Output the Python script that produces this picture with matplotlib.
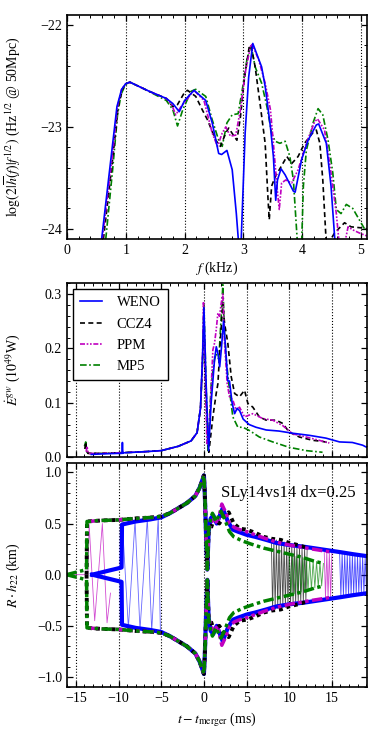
import numpy as np
import matplotlib
matplotlib.use('Agg')
import matplotlib.pyplot as plt
from matplotlib.ticker import MultipleLocator

# ---- top panel: spectrum, f in kHz vs log amplitude ----
weno_f = [0.59, 0.75, 0.85, 0.93, 1.0, 1.07, 1.40, 1.69, 1.80, 1.91, 2.0, 2.16, 2.36, 2.47, 2.58, 2.63, 2.72,
          2.81, 2.88, 2.92, 2.96, 3.03, 3.09, 3.16, 3.31, 3.37, 3.46, 3.51, 3.55, 3.58, 3.64, 3.71, 3.85, 3.88,
          3.99, 4.10, 4.24, 4.28, 4.41, 4.49, 4.56]
weno_s = [-24.1, -23.3, -22.8, -22.63, -22.575, -22.56, -22.65, -22.72, -22.77, -22.85, -22.74, -22.64, -22.74,
          -22.96, -23.26, -23.27, -23.23, -23.42, -23.85, -24.15, -24.15, -23.06, -22.51, -22.18, -22.41, -22.6,
          -23.0, -23.29, -23.72, -23.52, -23.41, -23.47, -23.63, -23.64, -23.32, -23.13, -22.98, -22.97, -23.16,
          -23.58, -24.15]

ccz4_f = [0.62, 0.78, 0.87, 0.95, 1.01, 1.07, 1.40, 1.69, 1.80, 1.88, 1.99, 2.05, 2.19, 2.30, 2.39, 2.53, 2.61,
          2.70, 2.75, 2.84, 2.89, 2.95, 3.02, 3.10, 3.13, 3.20, 3.29, 3.37, 3.42, 3.44, 3.48, 3.54, 3.62, 3.74,
          3.82, 3.93, 4.04, 4.19, 4.24, 4.30, 4.35, 4.41, 4.44, 4.55, 4.72, 4.83, 5.0, 5.1]
ccz4_s = [-24.1, -23.3, -22.8, -22.62, -22.575, -22.56, -22.65, -22.72, -22.8, -22.78, -22.67, -22.64, -22.70,
          -22.83, -22.93, -23.13, -23.19, -23.06, -23.01, -23.09, -23.13, -22.90, -22.51, -22.21, -22.20, -22.41,
          -22.80, -23.16, -23.72, -23.91, -23.58, -23.49, -23.41, -23.29, -23.36, -23.29, -23.16, -23.05, -23.03,
          -23.16, -23.52, -24.15, -24.15, -24.04, -23.94, -23.98, -23.99, -24.0]

ppm_f = [0.6, 0.77, 0.86, 0.93, 1.0, 1.07, 1.40, 1.69, 1.78, 1.85, 1.94, 2.16, 2.33, 2.47, 2.56, 2.64, 2.70,
         2.78, 2.87, 2.95, 3.03, 3.12, 3.15, 3.26, 3.37, 3.46, 3.51, 3.57, 3.61, 3.65, 3.72, 3.82, 3.93, 4.07,
         4.21, 4.26, 4.38, 4.49, 4.58, 4.63, 4.72, 4.78, 4.86, 4.97, 5.1]
ppm_s = [-24.1, -23.3, -22.8, -22.63, -22.575, -22.56, -22.65, -22.72, -22.78, -22.88, -22.80, -22.64, -22.74,
         -23.06, -23.19, -23.06, -23.0, -23.09, -23.08, -22.83, -22.47, -22.21, -22.19, -22.34, -22.57, -22.83,
         -23.16, -23.58, -23.81, -23.55, -23.52, -23.55, -23.42, -23.16, -22.95, -22.92, -23.03, -23.45, -23.85,
         -24.15, -24.15, -23.98, -24.01, -24.04, -24.07]

mp5_f = [0.66, 0.78, 0.86, 0.92, 0.99, 1.07, 1.29, 1.69, 1.80, 1.88, 1.97, 2.11, 2.19, 2.36, 2.47, 2.58, 2.64,
         2.72, 2.81, 2.91, 2.98, 3.06, 3.13, 3.20, 3.31, 3.40, 3.48, 3.54, 3.62, 3.71, 3.79, 3.85, 3.89, 3.92,
         3.99, 4.02, 4.07, 4.19, 4.27, 4.35, 4.44, 4.52, 4.58, 4.66, 4.75, 4.86, 4.97, 5.06, 5.1]
mp5_s = [-24.1, -23.4, -22.88, -22.68, -22.59, -22.56, -22.62, -22.74, -22.83, -22.99, -22.83, -22.65, -22.63,
         -22.70, -22.93, -23.13, -23.19, -22.96, -22.88, -22.87, -22.64, -22.34, -22.20, -22.41, -22.57, -22.80,
         -23.06, -23.14, -23.16, -23.14, -23.29, -23.52, -23.88, -24.15, -24.15, -23.58, -23.23, -22.95, -22.82,
         -22.88, -23.13, -23.45, -23.81, -23.85, -23.76, -23.80, -23.91, -24.0, -24.02]

# ---- middle panel: GW luminosity (1e49 W) vs t - t_merger (ms) ----
weno_t2 = [-13.2, -12.0, -10.0, -9.6, -9.55, -9.5, -9.4, -7.0, -5.0, -3.0, -1.5, -0.8, -0.4, -0.15, 0.0, 0.25,
           0.55, 0.85, 1.25, 1.45, 1.65, 1.85, 2.05, 2.3, 2.55, 2.8, 3.0, 3.3, 3.6, 3.9, 4.2, 4.6, 5.3, 6.1, 7.3,
           8.8, 10.4, 12.4, 14.3, 15.9, 17.4, 18.6, 19.1]
weno_e2 = [0.005, 0.006, 0.007, 0.007, 0.027, 0.007, 0.008, 0.01, 0.012, 0.02, 0.03, 0.045, 0.09, 0.19, 0.275,
           0.14, 0.012, 0.1, 0.18, 0.203, 0.19, 0.166, 0.2, 0.25, 0.2, 0.14, 0.14, 0.1, 0.08, 0.09, 0.085, 0.07,
           0.06, 0.055, 0.05, 0.048, 0.044, 0.04, 0.035, 0.028, 0.027, 0.022, 0.018]

ccz4_t2 = [-13.95, -13.85, -13.75, -13.6, -12.0, -10.0, -7.0, -5.0, -3.0, -1.5, -0.8, -0.4, -0.15, 0.0, 0.2,
           0.58, 1.05, 1.44, 1.64, 1.95, 2.22, 2.42, 2.8, 3.2, 3.6, 4.17, 4.76, 5.15, 5.73, 6.5, 7.3, 8.46, 9.24,
           10.0, 11.2, 12.75, 13.9, 14.7]
ccz4_e2 = [0.015, 0.028, 0.012, 0.007, 0.007, 0.008, 0.01, 0.012, 0.02, 0.03, 0.045, 0.09, 0.18, 0.25, 0.12,
           0.009, 0.074, 0.117, 0.135, 0.22, 0.283, 0.246, 0.21, 0.148, 0.117, 0.111, 0.123, 0.099, 0.092, 0.074,
           0.068, 0.068, 0.062, 0.046, 0.037, 0.031, 0.029, 0.026]

ppm_t2 = [-13.8, -13.7, -13.55, -12.0, -10.0, -7.0, -5.0, -3.0, -1.5, -0.8, -0.4, -0.15, -0.05, 0.35, 0.66,
          1.05, 1.25, 1.44, 1.64, 1.83, 2.03, 2.22, 2.42, 2.73, 3.0, 3.39, 3.78, 4.17, 4.76, 5.73, 6.9, 8.07,
          9.24, 10.4, 12.0, 13.5, 14.7]
ppm_e2 = [0.01, 0.02, 0.007, 0.007, 0.008, 0.01, 0.012, 0.02, 0.03, 0.045, 0.09, 0.19, 0.286, 0.025, 0.06,
          0.197, 0.21, 0.234, 0.265, 0.259, 0.283, 0.30, 0.21, 0.135, 0.111, 0.105, 0.086, 0.092, 0.074, 0.08,
          0.071, 0.068, 0.058, 0.043, 0.037, 0.031, 0.026]

mp5_t2 = [-14.0, -13.85, -13.7, -13.5, -12.0, -10.0, -7.0, -5.0, -3.0, -1.5, -0.8, -0.4, -0.15, 0.0, 0.47,
          0.86, 1.25, 1.44, 1.75, 2.03, 2.22, 2.42, 2.61, 3.0, 3.39, 3.98, 4.56, 5.34, 6.5, 8.07, 10.0, 12.0,
          13.9]
mp5_e2 = [0.02, 0.028, 0.01, 0.007, 0.007, 0.008, 0.01, 0.012, 0.02, 0.03, 0.045, 0.09, 0.18, 0.28, 0.012,
          0.135, 0.18, 0.19, 0.18, 0.26, 0.317, 0.228, 0.18, 0.123, 0.074, 0.055, 0.055, 0.049, 0.037, 0.028,
          0.018, 0.012, 0.009]

# ---- bottom panel: R*h22 envelope (km), lower side is the mirror ----
insp_t = [-4.0, -3.0, -2.0, -1.0, -0.5, -0.2, 0.0]
insp_h = [0.6, 0.65, 0.7, 0.77, 0.85, 0.92, 0.97]
merge_t = [0.1, 0.25, 0.4, 0.55]
merge_h = [0.8, 0.4, 0.05, 0.42]

weno_pre_t = [-13.1, -9.65, -9.6, -8.0, -6.3, -5.0]
weno_pre_h = [0.0, 0.07, 0.49, 0.52, 0.54, 0.56]
ccz4_pre_t = [-13.75, -13.7, -12.0, -10.0, -8.0, -6.0, -5.0]
ccz4_pre_h = [0.0, 0.52, 0.53, 0.535, 0.55, 0.56, 0.57]
ppm_pre_t = [-13.6, -12.0, -10.0, -8.0, -6.0, -5.0]
ppm_pre_h = [0.52, 0.53, 0.535, 0.55, 0.56, 0.57]
mp5_pre_t = [-16.1, -13.75, -13.7, -12.0, -10.0, -8.0, -6.0, -5.0]
mp5_pre_h = [0.0, 0.05, 0.52, 0.53, 0.535, 0.55, 0.56, 0.57]

weno_post_t = [0.8, 1.1, 1.5, 2.2, 2.8, 3.4, 4.0, 5.0, 6.0, 7.3, 8.5, 10.0, 12.0, 14.0, 16.0, 17.5, 19.2]
weno_post_h = [0.55, 0.58, 0.5, 0.65, 0.52, 0.44, 0.42, 0.39, 0.37, 0.34, 0.31, 0.29, 0.27, 0.245, 0.22, 0.2, 0.18]
ccz4_post_t = [0.8, 1.2, 1.8, 2.4, 2.9, 3.5, 4.2, 5.0, 6.0, 7.0, 8.0, 9.0, 10.0, 11.0, 12.2]
ccz4_post_h = [0.45, 0.55, 0.5, 0.58, 0.61, 0.5, 0.45, 0.44, 0.41, 0.37, 0.35, 0.34, 0.31, 0.29, 0.26]
ppm_post_t = [0.8, 1.2, 1.6, 2.1, 2.6, 3.0, 3.6, 4.2, 5.0, 6.0, 7.0, 8.5, 10.0, 12.0, 13.5, 15.0]
ppm_post_h = [0.5, 0.55, 0.5, 0.69, 0.6, 0.5, 0.46, 0.44, 0.42, 0.39, 0.36, 0.32, 0.29, 0.26, 0.24, 0.22]
mp5_post_t = [0.8, 1.0, 1.4, 2.0, 2.4, 3.0, 3.5, 4.5, 5.5, 7.0, 8.5, 10.0, 11.5, 13.0, 14.0]
mp5_post_h = [0.55, 0.6, 0.52, 0.62, 0.55, 0.42, 0.37, 0.33, 0.3, 0.26, 0.23, 0.2, 0.17, 0.13, 0.11]

# thin zig-zag strokes (sparse sampling of the oscillation)
weno_zz1_t = [-9.55, -8.85, -8.07, -7.49, -6.63, -6.12, -5.35, -5.1]
weno_zz1_h = [0.5, -0.52, 0.53, -0.54, 0.55, -0.55, 0.56, -0.56]
ppm_zz1_t = [-16.0, -13.6, -13.45, -12.8, -11.9, -11.35, -10.95]
ppm_zz1_h = [0.0, 0.0, 0.49, -0.45, 0.5, -0.47, -0.18]

ccz4_zz_t = [7.9, 8.05, 8.2, 8.35, 8.5, 8.65, 8.8, 8.95, 9.1, 9.25, 9.4, 9.55, 9.7, 9.85, 10.0, 10.15, 10.3,
             10.45, 10.6, 10.75, 10.9, 11.05, 11.2, 11.35, 11.5, 11.65, 11.8, 11.95, 12.1]
ccz4_zz_a = [0.35, 0.35, 0.34, 0.34, 0.34, 0.33, 0.33, 0.33, 0.33, 0.32, 0.32, 0.32, 0.31, 0.31, 0.31, 0.30,
             0.30, 0.30, 0.29, 0.29, 0.29, 0.28, 0.28, 0.28, 0.27, 0.27, 0.27, 0.26, 0.26]
mp5_zz_t = [10.0, 10.2, 10.4, 10.6, 10.8, 11.0, 11.2, 11.4, 11.6, 11.8, 12.0, 12.2, 12.4, 12.6, 12.8, 13.0,
            13.2, 13.4, 13.6, 13.8, 14.0]
mp5_zz_a = [0.20, 0.20, 0.19, 0.19, 0.18, 0.18, 0.18, 0.17, 0.17, 0.17, 0.16, 0.16, 0.15, 0.15, 0.14, 0.13,
            0.13, 0.12, 0.12, 0.11, 0.11]
ppm_zz_t = [14.1, 14.25, 14.4, 14.55, 14.7, 14.85, 15.0]
ppm_zz_a = [0.23, 0.23, 0.225, 0.225, 0.22, 0.22, 0.22]
weno_zz_t = [15.9, 16.05, 16.2, 16.35, 16.5, 16.65, 16.8, 16.95, 17.1, 17.25, 17.4, 17.55, 17.7, 17.85, 18.0,
             18.15, 18.3, 18.45, 18.6, 18.75, 18.9, 19.05]
weno_zz_a = [0.22, 0.22, 0.22, 0.215, 0.215, 0.21, 0.21, 0.21, 0.205, 0.205, 0.2, 0.2, 0.2, 0.195, 0.195, 0.19,
             0.19, 0.19, 0.185, 0.185, 0.18, 0.18]

labels = ['WENO', 'CCZ4', 'PPM', 'MP5']
colors = ['b', 'k', 'm', 'g']
dashes = ['-', (0, (3, 2)), (0, (3, 1, 1, 1, 1, 1)), (0, (4, 1.5, 1, 1.5))]
env_dashes = ['-', (0, (1, 1)), (0, (3, 1, 1, 1, 1, 1)), (0, (3, 1, 1, 1))]

plt.rcParams['font.family'] = 'serif'
plt.rcParams['font.serif'] = ['Liberation Serif', 'DejaVu Serif']
plt.rcParams['mathtext.fontset'] = 'stix'
plt.rcParams['font.size'] = 10
plt.rcParams['axes.linewidth'] = 1.2


def style_axis(ax):
    ax.tick_params(which='both', direction='in', top=True, right=True, labelsize=10)
    ax.tick_params(which='major', length=4.5, width=0.9)
    ax.tick_params(which='minor', length=2.2, width=0.7)
    ax.grid(axis='x', which='major', color='k', linestyle=':', linewidth=0.8)


def zigzag(t, a):
    a = np.asarray(a)
    return np.asarray(t), a * np.resize([1, -1], len(a))


fig = plt.figure(figsize=(3.74, 7.47), dpi=100)
ax1 = fig.add_axes([0.179, 0.680, 0.802, 0.300])
ax2 = fig.add_axes([0.179, 0.388, 0.802, 0.233])
ax3 = fig.add_axes([0.179, 0.080, 0.802, 0.300], sharex=ax2)

# ---- top panel ----
spec = [(weno_f, weno_s), (ccz4_f, ccz4_s), (ppm_f, ppm_s), (mp5_f, mp5_s)]
for i in [3, 1, 2, 0]:
    ax1.plot(spec[i][0], spec[i][1], color=colors[i], linestyle=dashes[i], lw=1.2)
ax1.set_xlim(0, 5.1)
ax1.set_ylim(-24.1, -21.9)
ax1.xaxis.set_major_locator(MultipleLocator(1))
ax1.xaxis.set_minor_locator(MultipleLocator(0.2))
ax1.yaxis.set_major_locator(MultipleLocator(1))
ax1.yaxis.set_minor_locator(MultipleLocator(0.2))
ax1.set_xlabel(r'$f$ (kHz)', labelpad=2)
ax1.set_ylabel(r'$\log(2|\overline{h}(f)|f^{1/2})$ (Hz$^{1/2}$ @ 50Mpc)')
style_axis(ax1)

# ---- middle panel ----
lum = [(weno_t2, weno_e2), (ccz4_t2, ccz4_e2), (ppm_t2, ppm_e2), (mp5_t2, mp5_e2)]
handles = [None] * 4
for i in [3, 1, 2, 0]:
    handles[i], = ax2.plot(lum[i][0], lum[i][1], color=colors[i], linestyle=dashes[i], lw=1.2, label=labels[i])
ax2.set_ylim(0, 0.32)
ax2.yaxis.set_major_locator(MultipleLocator(0.1))
ax2.yaxis.set_minor_locator(MultipleLocator(0.02))
ax2.yaxis.set_major_formatter(plt.FormatStrFormatter('%.1f'))
ax2.set_ylabel(r'$\dot{E}^{gw}$ ($10^{49}$W)')
leg = ax2.legend(handles=handles, loc='upper left', fancybox=False, edgecolor='k', framealpha=1,
                 handlelength=1.5, handletextpad=1.0, fontsize=10.5, borderpad=0.5, labelspacing=0.55,
                 borderaxespad=0.4)
leg.get_frame().set_linewidth(1.0)
style_axis(ax2)
ax2.tick_params(labelbottom=False)

# ---- bottom panel ----
pre = [(weno_pre_t, weno_pre_h), (ccz4_pre_t, ccz4_pre_h), (ppm_pre_t, ppm_pre_h), (mp5_pre_t, mp5_pre_h)]
post = [(weno_post_t, weno_post_h), (ccz4_post_t, ccz4_post_h), (ppm_post_t, ppm_post_h), (mp5_post_t, mp5_post_h)]
dense = [(weno_zz_t, weno_zz_a), (ccz4_zz_t, ccz4_zz_a), (ppm_zz_t, ppm_zz_a), (mp5_zz_t, mp5_zz_a)]

ax3.plot(weno_zz1_t, weno_zz1_h, color='b', lw=0.6, alpha=0.6)
ax3.plot(ppm_zz1_t, ppm_zz1_h, color='m', lw=0.6, alpha=0.7)
for i in range(4):
    zt, zh = zigzag(*dense[i])
    ax3.plot(zt, zh, color=colors[i], lw=0.6, alpha=0.7)

env_w = [3.0, 2.8, 2.5, 2.5]
for i in [0, 1, 2, 3]:
    t = np.concatenate([pre[i][0], insp_t, merge_t, post[i][0]])
    h = np.concatenate([pre[i][1], insp_h, merge_h, post[i][1]])
    for sgn in (1, -1):
        ax3.plot(t, sgn * h, color=colors[i], linestyle=env_dashes[i], lw=env_w[i])

ax3.set_xlim(-16.05, 19.1)
ax3.set_ylim(-1.1, 1.09)
ax3.xaxis.set_major_locator(MultipleLocator(5))
ax3.xaxis.set_minor_locator(MultipleLocator(1))
ax3.yaxis.set_major_locator(MultipleLocator(0.5))
ax3.yaxis.set_minor_locator(MultipleLocator(0.1))
ax3.set_xlabel(r'$t - t_{\rm merger}$ (ms)')
ax3.set_ylabel(r'$R \cdot h_{22}$ (km)')
ax3.text(0.737, 0.866, 'SLy14vs14 dx=0.25', transform=ax3.transAxes, ha='center', va='center', fontsize=12)
style_axis(ax3)

for ax in (ax1, ax2, ax3):
    ax.yaxis.set_label_coords(-0.15, 0.5)

fig.savefig('out.png', dpi=100)
